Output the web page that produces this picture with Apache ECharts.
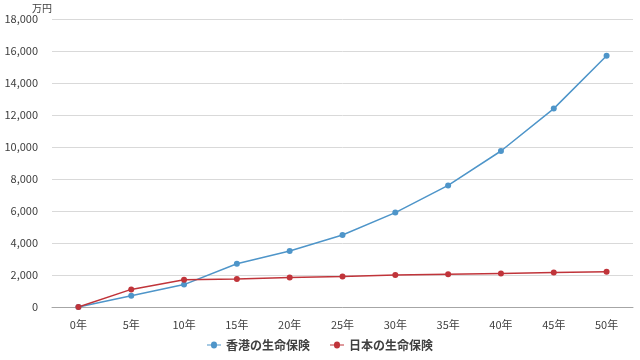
<!DOCTYPE html>
<html><head><meta charset="utf-8">
<script src="https://cdn.jsdelivr.net/npm/echarts@6/dist/echarts.min.js"></script>
<style>html,body{margin:0;padding:0;background:#fff}#c{width:640px;height:360px}</style>
</head><body><div id="c"></div>
<script>
const categories = ['0年','5年','10年','15年','20年','25年','30年','35年','40年','45年','50年'];
const hongKong = [0, 700, 1400, 2700, 3500, 4500, 5900, 7600, 9750, 12400, 15700];
const japan = [0, 1100, 1700, 1750, 1850, 1900, 2000, 2050, 2100, 2150, 2200];
const seriesNames = ['香港の生命保険', '日本の生命保険'];
const yTicks = {min: 0, max: 18000, interval: 2000};
const font = '"Noto Sans CJK JP", "Noto Sans", sans-serif';
const chart = echarts.init(document.getElementById('c'));
chart.setOption({
  animation: false,
  grid: {left: 52, right: 7, top: 19, bottom: 53},
  legend: {
    bottom: 4, left: 'center', itemWidth: 14, itemHeight: 8, itemGap: 20,
    textStyle: {color: '#404040', fontSize: 12, fontFamily: font, fontWeight: 'bold'},
    data: seriesNames.map(n => ({name: n, icon: 'path://M0,4.5L4,4.5A3,3 0 1,1 10,4.5L14,4.5L14,5.5L10,5.5A3,3 0 1,1 4,5.5L0,5.5Z'}))
  },
  xAxis: {
    type: 'category', data: categories, boundaryGap: true,
    axisLine: {lineStyle: {color: '#a6a6a6'}}, axisTick: {show: false},
    axisLabel: {color: '#404040', fontSize: 11, fontFamily: font, margin: 12}
  },
  yAxis: {
    type: 'value', min: yTicks.min, max: yTicks.max, interval: yTicks.interval,
    name: '万円', nameGap: 6, nameTextStyle: {color: '#404040', fontSize: 10, fontFamily: font, align: 'right'},
    axisLine: {show: false}, axisTick: {show: false},
    splitLine: {lineStyle: {color: '#d9d9d9'}},
    axisLabel: {color: '#404040', fontSize: 11, fontFamily: font, margin: 14,
      formatter: v => v.toLocaleString('en-US')}
  },
  series: [
    {name: seriesNames[0], type: 'line', data: hongKong, symbol: 'circle', symbolSize: 6,
     itemStyle: {color: '#4e95c9'}, lineStyle: {width: 1.5, color: '#4e95c9'}},
    {name: seriesNames[1], type: 'line', data: japan, symbol: 'circle', symbolSize: 6,
     itemStyle: {color: '#c0343a'}, lineStyle: {width: 1.5, color: '#c0343a'}}
  ]
});
</script></body></html>
